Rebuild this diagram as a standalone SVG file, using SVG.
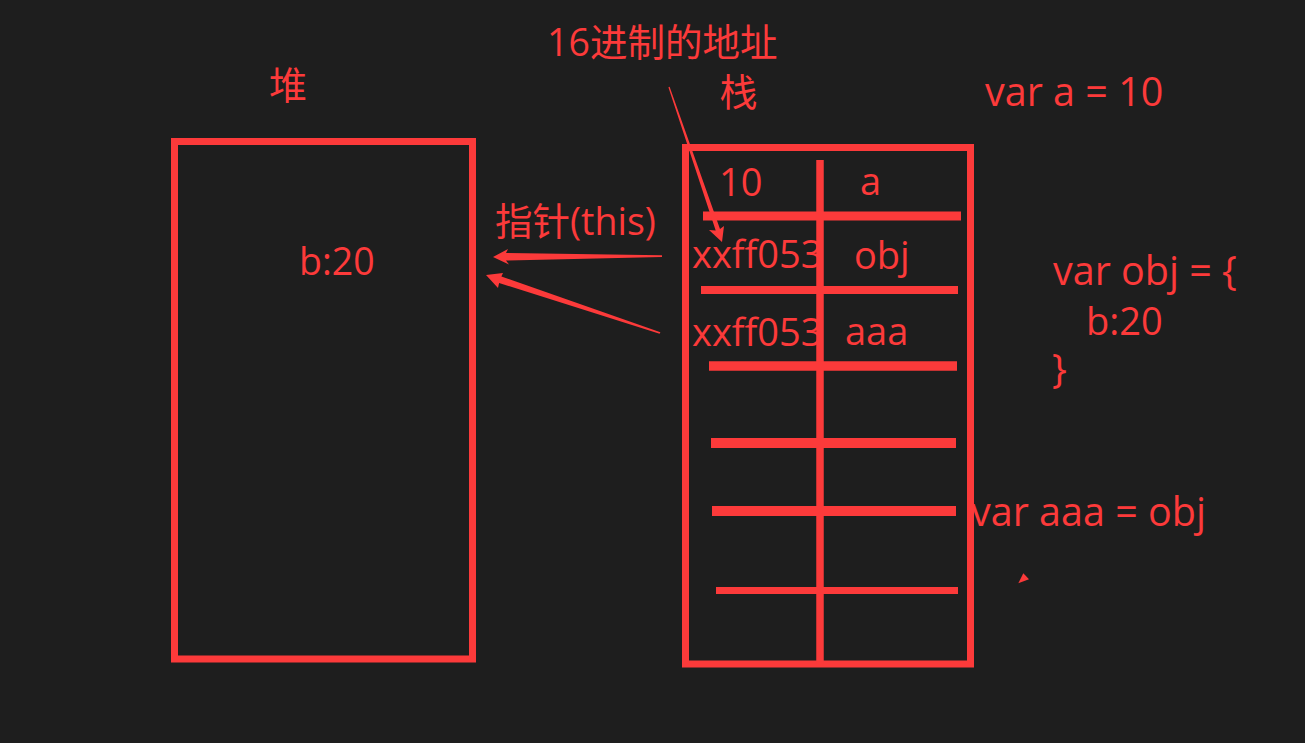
<svg xmlns="http://www.w3.org/2000/svg" width="1305" height="743" viewBox="0 0 1305 743">
<style>
  .t { font-family: "Open Sans", "Noto Sans CJK SC", sans-serif; font-size: 38px; fill: #fc3a3a; }
  .c { font-size: 39.5px; }
  .box { fill: none; stroke: #fc3a3a; stroke-width: 7; }
  .ln { stroke: #fc3a3a; }
  .ar { fill: #fc3a3a; }
</style>
<rect x="0" y="0" width="1305" height="743" fill="#1e1e1e"/>
<g id="heap-label"><text class="t" x="288" y="99" text-anchor="middle">堆</text></g>
<g id="stack-label"><text class="t" x="738.5" y="106" text-anchor="middle">栈</text></g>
<g id="hex-label"><text class="t" x="547" y="56" style="font-size:37.5px">16进制的地址</text></g>
<g id="pointer-label"><text class="t" x="495" y="235" style="font-size:37.5px">指针(this)</text></g>
<g id="heap">
  <rect class="box" x="174.5" y="141.5" width="298" height="517.5"/>
  <text class="t" x="299" y="275" style="font-size:37.5px">b:20</text>
</g>
<g id="stack">
  <rect class="box" x="685.5" y="147.5" width="285" height="516.5"/>
  <line class="ln" x1="820" y1="160" x2="820" y2="664" stroke-width="7.5"/>
  <line class="ln" x1="703" y1="216" x2="961" y2="216" stroke-width="9"/>
  <line class="ln" x1="701" y1="290" x2="958" y2="290" stroke-width="8"/>
  <line class="ln" x1="709" y1="366" x2="957" y2="366" stroke-width="9.5"/>
  <line class="ln" x1="711" y1="443" x2="956" y2="443" stroke-width="10"/>
  <line class="ln" x1="712" y1="511" x2="956" y2="511" stroke-width="10"/>
  <line class="ln" x1="716" y1="590.5" x2="958" y2="590.5" stroke-width="7"/>
  <text class="t" x="719" y="196">10</text>
  <text class="t" x="860" y="195">a</text>
  <text class="t" x="692" y="268">xxff053</text>
  <text class="t" x="854" y="269">obj</text>
  <text class="t" x="692" y="346">xxff053</text>
  <text class="t" x="845" y="345">aaa</text>
</g>
<g id="code-a"><text class="t c" x="985" y="106">var a = 10</text></g>
<g id="code-obj">
  <text class="t c" x="1053" y="285">var obj = {</text>
  <text class="t" x="1086" y="335">b:20</text>
  <text class="t c" x="1052" y="383">}</text>
</g>
<g id="code-aaa"><text class="t c" x="971" y="526">var aaa = obj</text></g>
<g id="connectors">
  <polygon class="ar" points="493,257 508,249 506,253 662,255.3 662,257 506,260.5 509,264.5"/>
  <polygon class="ar" points="486,275 503,273 501.4,276.5 660.4,332.3 659.6,333.7 499.1,283 498,288"/>
  <polygon class="ar" points="722,242 709,230 715.7,230.5 668.4,87.3 669.6,86.7 720,229 724,226"/>
  <polygon class="ar" points="1018.3,583.3 1023.3,573.3 1029,579.3"/>
</g>
</svg>
